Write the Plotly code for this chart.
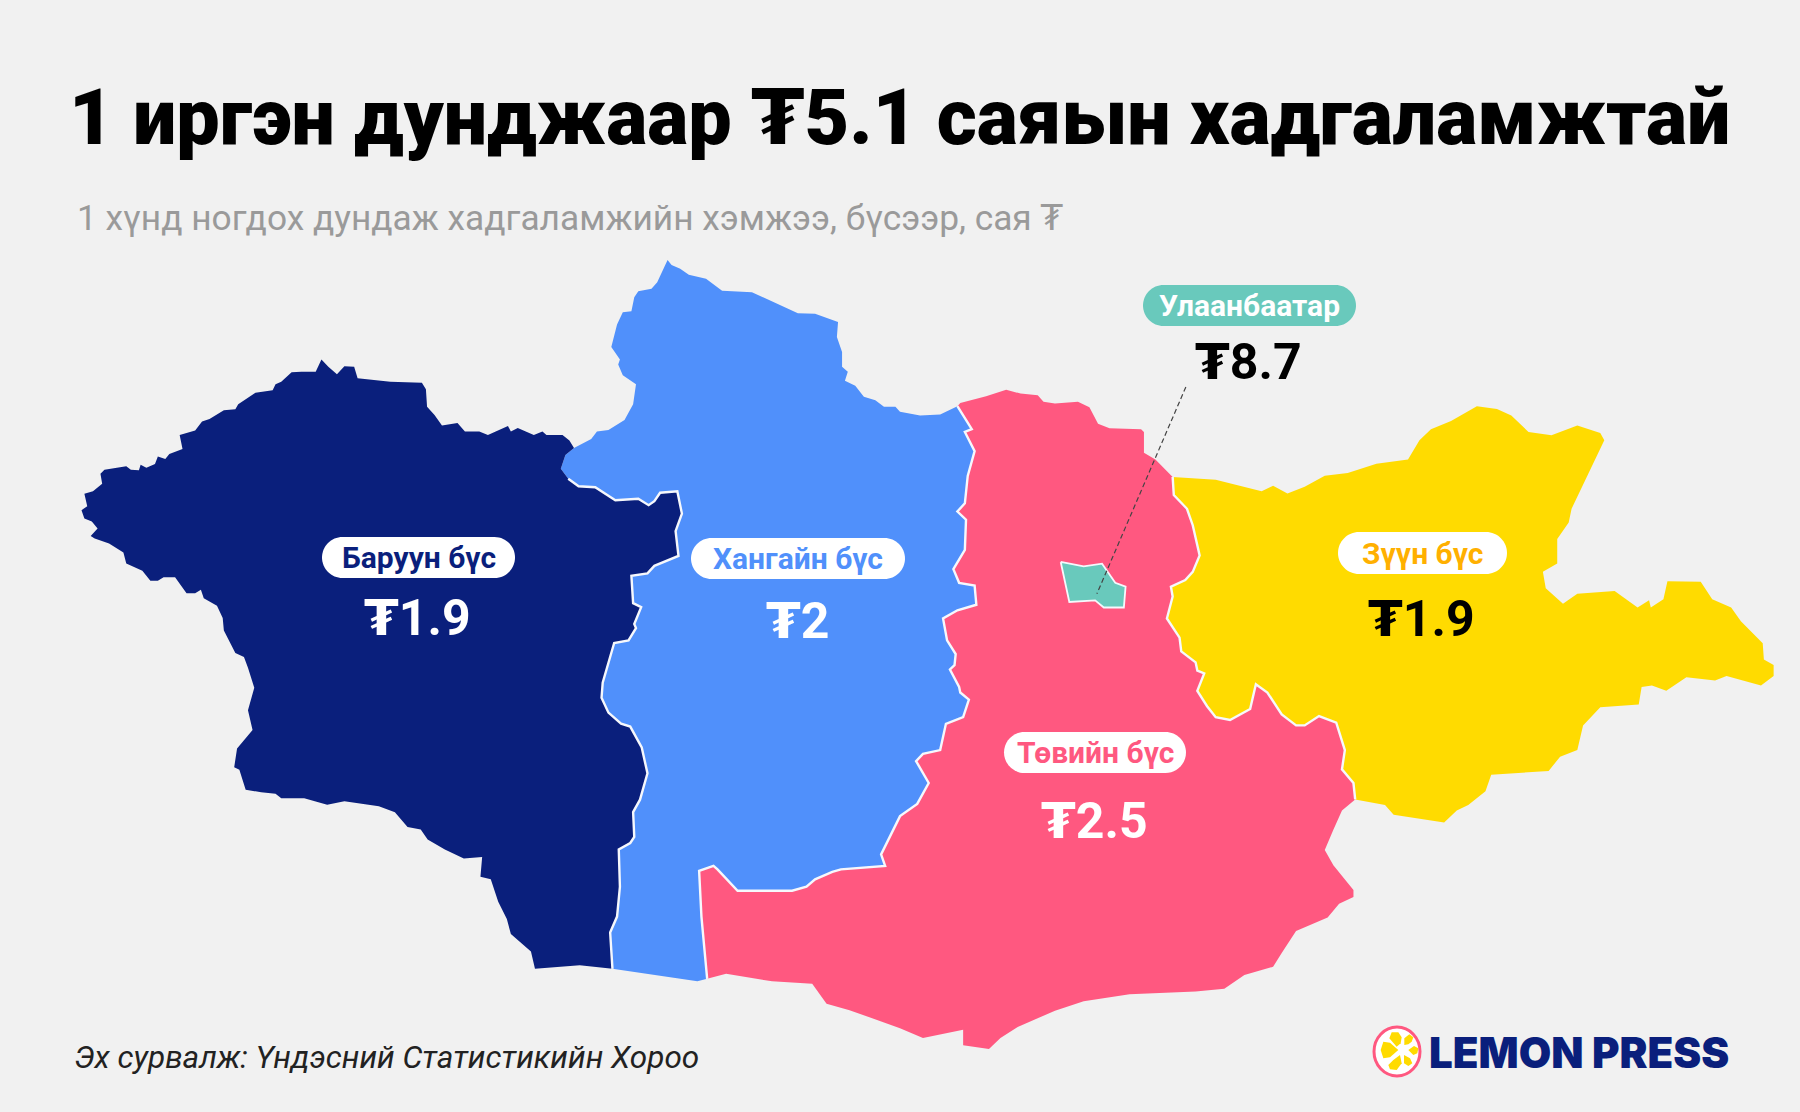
import plotly.graph_objects as go

BG = "#F1F1F1"
NAVY = "#0A1F7C"
BLUE = "#5090FB"
PINK = "#FF5880"
YELLOW = "#FFDB00"
TEAL = "#69C9BC"
FONT = "Roboto, DejaVu Sans"

TITLE = "1 иргэн дунджаар ₮5.1 саяын хадгаламжтай"
SUBTITLE = "1 хүнд ногдох дундаж хадгаламжийн хэмжээ, бүсээр, сая ₮"
SOURCE = "Эх сурвалж: Үндэсний Статистикийн Хороо"

REGION_NAMES = ["Баруун бүс", "Хангайн бүс", "Төвийн бүс", "Зүүн бүс", "Улаанбаатар"]
REGION_VALUES = ["1.9", "2", "2.5", "1.9", "8.7"]
PILL_TEXT_COLORS = [NAVY, BLUE, PINK, "#FFB000", "#FFFFFF"]
PILL_FILLS = ["#FFFFFF", "#FFFFFF", "#FFFFFF", "#FFFFFF", TEAL]
VALUE_COLORS = ["#FFFFFF", "#FFFFFF", "#FFFFFF", "#000000", "#000000"]
PILL_X0 = [322, 691, 1004, 1338, 1143]
PILL_X1 = [515, 905, 1186, 1507, 1356]
PILL_Y0 = [537, 538, 732, 532, 285]
PILL_Y1 = [578, 579, 773, 574, 326]
VALUE_Y = [618, 621, 821, 619, 362]

# outlines, west half and east half were read on separate sheets
BARUUN_OUTER = [(1000,418),(992,403),(980,392),(952,392),(945,385),(930,392),(902,378),(890,385),(885,374),(850,392),
    (835,385),(810,385),(797,368),(770,373),(757,352),(744,335),(742,300),(735,287),(680,285),(650,282),(623,278),
    (617,255),(600,254),(587,270),(572,255),(560,240),(550,265),(525,265),(508,266),(490,285),(480,290),(475,302),
    (445,307),(415,330),(410,340),(390,342),(365,360),(352,365),(340,383),(313,392),(318,420),(295,430),(288,440),
    (275,435),(270,450),(255,458),(245,452),(242,463),(228,462),(220,455),(182,462),(175,470),(178,490),(162,505),
    (147,510),(152,535),(142,543),(147,560),(160,566),(170,580),(158,595),(165,600),(190,610),(215,628),(220,650),
    (248,665),(262,685),(275,685),(285,678),(305,678),(325,710),(340,710),(350,703),(355,720),(378,735),(388,760),
    (390,785),(410,830),(425,838),(432,860),(443,900),(432,945),(440,985),(413,1022),(408,1060),(417,1065),(428,1105),
    (455,1110),(480,1113),(490,1122),(530,1122),(570,1135),(600,1128),(660,1138),(688,1150),(710,1180),(733,1185),
    (745,1205),(775,1225),(808,1243),(840,1240),(837,1280),(855,1285),(868,1330),(883,1365),(890,1395),(925,1430),
    (932,1465),(1010,1458),(1067,1465)]
BARUUN_HANGAI = [(1067,1465),(1063,1392),(1075,1360),(1080,1300),(1078,1225),(1098,1212),(1105,1200),(1103,1150),
    (1115,1125),(1128,1072),(1118,1020),(1098,978),(1082,972),(1060,950),(1048,920),(1050,890),(1070,810),(1095,805),
    (1108,780),(1105,772),(1117,738),(1103,730),(1100,675),(1128,670),(1140,655),(1182,635),(1177,585),(1188,550),
    (1180,505),(1150,508),(1140,525),(1130,533),(1112,520),(1072,523),(1037,497),(1008,495),(990,480),(977,460),
    (985,432),(1000,418)]
HANGAI_NORTH_W = [(1030,400),(1040,385),(1060,382),(1088,362),(1103,330),(1108,290),(1085,272),(1077,250),(1080,240),
    (1065,215),(1075,170),(1085,145),(1100,143),(1105,115),(1112,103),(1135,98),(1145,85),(1163,40),(1170,50),
    (1185,58),(1200,70),(1230,78),(1258,102),(1310,105),(1390,147),(1420,148),(1460,165),(1458,195),(1467,225),
    (1467,255),(1477,265),(1472,283),(1490,293),(1505,315),(1525,322),(1540,335),(1560,335)]
HANGAI_NORTH_E = [(0,313),(35,320),(70,318),(100,303)]
HANGAI_TOV_E = [(100,303),(125,345),(113,350),(130,385),(118,430),(113,480),(100,495),(115,510),(113,565),(93,600),
    (103,625),(130,630),(133,665),(100,675),(75,690),(82,730),(97,755),(95,775),(87,783),(103,815),(105,825),
    (120,838),(110,870),(80,882),(70,930),(40,937),(28,950),(50,990),(30,1028),(0,1050)]
HANGAI_TOV_W = [(1568,1158),(1535,1235),(1542,1258),(1465,1265),(1450,1270),(1420,1285),(1405,1300),(1380,1308),
    (1285,1308),(1250,1265),(1243,1258),(1218,1268),(1222,1360),(1232,1485)]
HANGAI_SOUTH = [(1215,1490),(1067,1465)]
TOV_SOUTH_W = [(1232,1485),(1265,1475),(1345,1490),(1415,1495),(1440,1535),(1480,1548)]
TOV_SOUTH_E = [(0,1437),(40,1455),(110,1440),(110,1468),(155,1475),(175,1455),(205,1435),(270,1405),(320,1388),
    (400,1375),(515,1370),(565,1365),(600,1340),(650,1325),(665,1300),(690,1260),(745,1235),(765,1210),(790,1198),
    (790,1185),(755,1140),(740,1112),(755,1075),(770,1040),(793,1020)]
TOV_ZUUN = [(793,1020),(790,990),(770,965),(775,930),(760,880),(730,868),(705,885),(690,885),(665,865),(640,825),
    (620,810),(610,855),(575,875),(550,870),(535,850),(518,822),(530,790),(518,785),(515,770),(490,750),(487,725),
    (465,690),(475,650),(472,632),(497,620),(510,605),(522,575),(510,520),(500,490),(477,465),(475,432)]
TOV_NORTH = [(445,400),(425,388),(425,350),(420,345),(365,343),(345,335),(330,305),(310,295),(270,298),(250,295),
    (240,283),(210,280),(185,273),(150,285),(105,297),(100,303)]
ZUUN_OUTER = [(475,432),(515,435),(550,437),(630,458),(650,448),(675,462),(705,450),(740,430),(780,425),(830,408),
    (885,400),(905,365),(925,345),(960,330),(1005,303),(1040,308),(1065,320),(1095,350),(1135,356),(1180,338),
    (1220,352),(1227,365),(1170,490),(1165,515),(1145,545),(1145,590),(1120,605),(1125,635),(1155,663),(1180,645),
    (1245,640),(1285,670),(1305,657),(1308,670),(1330,655),(1337,622),(1395,623),(1415,655),(1448,670),(1465,695),
    (1503,735),(1505,765),(1522,775),(1522,795),(1500,812),(1440,795),(1420,803),(1370,797),(1335,822),(1310,812),
    (1292,815),(1287,847),(1220,852),(1190,885),(1185,907),(1180,930),(1150,942),(1130,968),(1030,975),(1020,1005),
    (990,1030),(970,1040),(948,1062),(860,1048),(845,1030),(793,1020)]
ULAANBAATAR = [(280,587),(320,595),(352,590),(375,625),(393,632),(390,670),(355,670),(340,657),(295,660),(287,620),(280,587)]
UB_LEADER = [(498,268),(343,645)]

PETALS = [
    [(175,150),(150,128),(130,125),(122,150),(130,175),(150,172)],
    [(170,140),(148,115),(155,97),(175,97),(185,112),(182,130)],
    [(193,135),(193,115),(208,103),(220,112),(215,125),(205,133)],
    [(205,150),(222,138),(235,145),(232,160),(220,165)],
    [(192,165),(210,175),(217,190),(205,198),(192,190)],
    [(180,165),(185,190),(170,210),(150,208),(145,195),(160,180)],
]


def west(points):
    return [(x * 0.574, 240 + y * 0.4975) for x, y in points]


def east(points):
    return [(900 + x * 0.574, 240 + y * 0.5485) for x, y in points]


def logo(points):
    return [(1340 + x / 3, 1000 + y / 3) for x, y in points]


def add_area(fig, points, color):
    fig.add_trace(go.Scatter(x=[p[0] for p in points], y=[p[1] for p in points], mode="lines",
                             fill="toself", fillcolor=color, line=dict(width=0, color=color),
                             hoverinfo="skip", showlegend=False))


def add_border(fig, points, color="#F6F8FC", width=2.4, dash="solid"):
    fig.add_trace(go.Scatter(x=[p[0] for p in points], y=[p[1] for p in points], mode="lines",
                             line=dict(width=width, color=color, dash=dash),
                             hoverinfo="skip", showlegend=False))


def pill_path(x0, y0, x1, y1):
    r = (y1 - y0) / 2
    k = r * 0.45
    return (f"M{x0 + r},{y0} L{x1 - r},{y0} C{x1 - k},{y0} {x1},{y0 + k} {x1},{y0 + r} "
            f"C{x1},{y1 - k} {x1 - k},{y1} {x1 - r},{y1} L{x0 + r},{y1} "
            f"C{x0 + k},{y1} {x0},{y1 - k} {x0},{y0 + r} C{x0},{y0 + k} {x0 + k},{y0} {x0 + r},{y0} Z")


def add_text(fig, x, y, text, size, color, weight=400, anchor="left", italic=False, family=FONT):
    fig.add_annotation(x=x, y=y, text=text, showarrow=False, xanchor=anchor, yanchor="middle",
                       xref="x", yref="y",
                       font=dict(family=family, size=size, color=color, weight=weight,
                                 style="italic" if italic else "normal"))


baruun_hangai = west(BARUUN_HANGAI)
hangai_tov = east(HANGAI_TOV_E) + west(HANGAI_TOV_W)
tov_zuun = east(TOV_ZUUN)

baruun = west(BARUUN_OUTER) + baruun_hangai
hangai = baruun_hangai + west(HANGAI_NORTH_W) + east(HANGAI_NORTH_E) + hangai_tov + west(HANGAI_SOUTH)
tov = hangai_tov + west(TOV_SOUTH_W) + east(TOV_SOUTH_E) + tov_zuun + east(TOV_NORTH)
zuun = east(ZUUN_OUTER) + tov_zuun

fig = go.Figure()
add_area(fig, hangai, BLUE)
add_area(fig, baruun, NAVY)
add_area(fig, tov, PINK)
add_area(fig, zuun, YELLOW)
add_area(fig, east(ULAANBAATAR), TEAL)

add_border(fig, baruun_hangai[:-3])
add_border(fig, hangai_tov)
add_border(fig, tov_zuun)
add_border(fig, east(ULAANBAATAR), width=1.8)
add_border(fig, east(UB_LEADER), color="#444444", width=1.2, dash="5px,3px")

shapes = []
for i in range(len(REGION_NAMES)):
    shapes.append(dict(type="path", xref="x", yref="y", line_width=0, fillcolor=PILL_FILLS[i],
                       path=pill_path(PILL_X0[i], PILL_Y0[i], PILL_X1[i], PILL_Y1[i])))
    cx = (PILL_X0[i] + PILL_X1[i]) / 2
    add_text(fig, cx, (PILL_Y0[i] + PILL_Y1[i]) / 2, REGION_NAMES[i], 30, PILL_TEXT_COLORS[i], 700, "center")
    add_text(fig, cx - 1, VALUE_Y[i], "₮" + REGION_VALUES[i], 50, VALUE_COLORS[i], 700, "center")

# logo
shapes.append(dict(type="circle", xref="x", yref="y", x0=1374, y0=1027, x1=1420, y1=1076, layer="below",
                   fillcolor="#FFFFFF", line=dict(color=PINK, width=3)))
for petal in PETALS:
    add_area(fig, logo(petal), YELLOW)

add_text(fig, 67, 117, TITLE, 77.2, "#000000", 900)
add_text(fig, 75, 218, SUBTITLE, 35.3, "#9A9A9A", 400)
add_text(fig, 72, 1057, SOURCE, 31.5, "#222222", 400, italic=True)
add_text(fig, 1427, 1052, "LEMON PRESS", 42, NAVY, 900, family="Inter")

fig.update_layout(width=1800, height=1112, margin=dict(l=0, r=0, t=0, b=0),
                  paper_bgcolor=BG, plot_bgcolor=BG, shapes=shapes, showlegend=False)
fig.update_xaxes(range=[0, 1800], visible=False, fixedrange=True)
fig.update_yaxes(range=[1112, 0], visible=False, fixedrange=True)

fig.write_html("out.html", config=dict(displayModeBar=False),
               post_script="document.body.style.margin='0';document.body.style.background='#F1F1F1';")
